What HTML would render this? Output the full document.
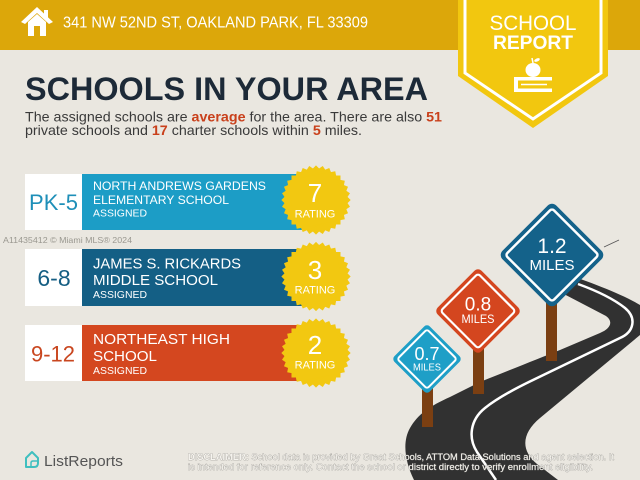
<!DOCTYPE html>
<html>
<head>
<meta charset="utf-8">
<style>
  html,body{margin:0;padding:0;background:#EAE7E0;}
  body{width:640px;height:480px;overflow:hidden;}
  svg{display:block;font-family:"Liberation Sans", Arial, sans-serif;}
</style>
</head>
<body>
<svg width="640" height="480" viewBox="0 0 640 480" xmlns="http://www.w3.org/2000/svg">
  <defs>
    <g id="star">
      <rect x="-24.5" y="-24.5" width="49" height="49" transform="rotate(0)"/>
      <rect x="-24.5" y="-24.5" width="49" height="49" transform="rotate(11.25)"/>
      <rect x="-24.5" y="-24.5" width="49" height="49" transform="rotate(22.5)"/>
      <rect x="-24.5" y="-24.5" width="49" height="49" transform="rotate(33.75)"/>
      <rect x="-24.5" y="-24.5" width="49" height="49" transform="rotate(45)"/>
      <rect x="-24.5" y="-24.5" width="49" height="49" transform="rotate(56.25)"/>
      <rect x="-24.5" y="-24.5" width="49" height="49" transform="rotate(67.5)"/>
      <rect x="-24.5" y="-24.5" width="49" height="49" transform="rotate(78.75)"/>
    </g>
  </defs>

  <!-- background -->
  <rect x="0" y="0" width="640" height="480" fill="#EAE7E0"/>

  <!-- header bar -->
  <rect x="0" y="0" width="640" height="50" fill="#DCA70A"/>
  <!-- house icon -->
  <polygon points="21,22 37,7 53,22 49,24 37,13 25,24" fill="#fff"/>
  <rect x="44" y="10" width="4" height="8" fill="#fff"/>
  <polygon points="28,22 37,14 46,22 46,36 28,36" fill="#fff"/>
  <rect x="34" y="26" width="6" height="10" fill="#DCA70A"/>
  <text x="63" y="27.5" font-size="16" fill="#fff" textLength="305" lengthAdjust="spacingAndGlyphs">341 NW 52ND ST, OAKLAND PARK, FL 33309</text>

  <!-- badge -->
  <polygon points="458,0 608,0 608,76 533,128 458,76" fill="#F2C70F"/>
  <polyline points="465,0 465,73 533,119 601,73 601,0" fill="none" stroke="#fff" stroke-width="3"/>
  <text x="533" y="30" font-size="21" fill="#fff" text-anchor="middle" textLength="87" lengthAdjust="spacingAndGlyphs">SCHOOL</text>
  <text x="533" y="49" font-size="19.5" font-weight="bold" fill="#fff" text-anchor="middle" textLength="80" lengthAdjust="spacingAndGlyphs">REPORT</text>
  <!-- apple -->
  <ellipse cx="533" cy="70" rx="7.5" ry="7" fill="#fff"/>
  <line x1="533" y1="63" x2="532" y2="58" stroke="#fff" stroke-width="1.5"/>
  <ellipse cx="537" cy="60" rx="3" ry="1.5" fill="#fff" transform="rotate(-25 537 60)"/>
  <!-- books -->
  <rect x="514" y="77" width="38" height="15" fill="#fff"/>
  <rect x="518" y="80.5" width="34" height="8" fill="#F2C70F"/>
  <line x1="521" y1="84.5" x2="547" y2="84.5" stroke="#fff" stroke-width="1.5"/>

  <!-- title -->
  <text x="25" y="100" font-size="32" font-weight="bold" fill="#1D2A38" textLength="403" lengthAdjust="spacingAndGlyphs">SCHOOLS IN YOUR AREA</text>
  <text x="25" y="121.5" font-size="14" fill="#3a3a3a" textLength="417" lengthAdjust="spacingAndGlyphs">The assigned schools are <tspan font-weight="bold" fill="#C9401B">average</tspan> for the area. There are also <tspan font-weight="bold" fill="#C9401B">51</tspan></text>
  <text x="25" y="135" font-size="14" fill="#3a3a3a" textLength="337" lengthAdjust="spacingAndGlyphs">private schools and <tspan font-weight="bold" fill="#C9401B">17</tspan> charter schools within <tspan font-weight="bold" fill="#C9401B">5</tspan> miles.</text>

  <!-- card 1 -->
  <rect x="25" y="174" width="57" height="56" fill="#fff"/>
  <rect x="82" y="174" width="220" height="56" fill="#1C9DC6"/>
  <text x="53.5" y="210" font-size="22" fill="#1E8FB8" text-anchor="middle">PK-5</text>
  <text x="93" y="190" font-size="12" fill="#fff" textLength="173" lengthAdjust="spacingAndGlyphs">NORTH ANDREWS GARDENS</text>
  <text x="93" y="204" font-size="12" fill="#fff" textLength="136" lengthAdjust="spacingAndGlyphs">ELEMENTARY SCHOOL</text>
  <text x="93" y="216.5" font-size="10.5" fill="#fff" textLength="54" lengthAdjust="spacingAndGlyphs">ASSIGNED</text>
  <use href="#star" transform="translate(316 200)" fill="#F2C811"/>
  <text x="315" y="202" font-size="26" fill="#fff" text-anchor="middle">7</text>
  <text x="315" y="217.5" font-size="11" fill="#fff" text-anchor="middle">RATING</text>

  <!-- watermark -->
  <text x="3" y="243" font-size="8.5" fill="#9a9890" textLength="129" lengthAdjust="spacingAndGlyphs">A11435412 © Miami MLS® 2024</text>

  <!-- card 2 -->
  <rect x="25" y="249" width="57" height="57" fill="#fff"/>
  <rect x="82" y="249" width="220" height="57" fill="#145F85"/>
  <text x="54" y="286" font-size="23" fill="#155E83" text-anchor="middle">6-8</text>
  <text x="93" y="268.5" font-size="15" fill="#fff" textLength="148" lengthAdjust="spacingAndGlyphs">JAMES S. RICKARDS</text>
  <text x="93" y="285" font-size="15" fill="#fff" textLength="125" lengthAdjust="spacingAndGlyphs">MIDDLE SCHOOL</text>
  <text x="93" y="298" font-size="10.5" fill="#fff" textLength="54" lengthAdjust="spacingAndGlyphs">ASSIGNED</text>
  <use href="#star" transform="translate(316 276.5)" fill="#F2C811"/>
  <text x="315" y="279" font-size="26" fill="#fff" text-anchor="middle">3</text>
  <text x="315" y="293.5" font-size="11" fill="#fff" text-anchor="middle">RATING</text>

  <!-- card 3 -->
  <rect x="25" y="325" width="57" height="56" fill="#fff"/>
  <rect x="82" y="325" width="220" height="56" fill="#D4471F"/>
  <text x="53" y="361.5" font-size="22" fill="#C9461F" text-anchor="middle">9-12</text>
  <text x="93" y="344" font-size="15" fill="#fff" textLength="137" lengthAdjust="spacingAndGlyphs">NORTHEAST HIGH</text>
  <text x="93" y="361" font-size="15" fill="#fff" textLength="64" lengthAdjust="spacingAndGlyphs">SCHOOL</text>
  <text x="93" y="374" font-size="10.5" fill="#fff" textLength="54" lengthAdjust="spacingAndGlyphs">ASSIGNED</text>
  <use href="#star" transform="translate(316 353)" fill="#F2C811"/>
  <text x="315" y="354" font-size="26" fill="#fff" text-anchor="middle">2</text>
  <text x="315" y="368.5" font-size="11" fill="#fff" text-anchor="middle">RATING</text>

  <!-- road -->
  <path d="M560,272 C590,282 622,294 640,305 L640,335 L540,418 C522,433 520,450 537,464 L558,480 L414,480 C405,462 402,442 410,428 C418,414 430,406 450,397 L480,382 C510,370 540,358 560,350 L600,333 C610,329 614,322 606,316 L560,292 Z" fill="#313131"/>
  <path d="M578,284 C600,292 615,300 625,308 C637,318 634,332 620,338 L533,380 C510,391 495,400 485,408 C470,420 468,438 477,452 L496,480" fill="none" stroke="#fff" stroke-width="2.5"/>

  <!-- posts -->
  <rect x="546" y="295" width="11" height="66" fill="#7B3F12"/>
  <rect x="473" y="345" width="11" height="49" fill="#7B3F12"/>
  <rect x="422" y="385" width="11" height="42" fill="#7B3F12"/>

  <!-- thin wire from sign -->
  <line x1="604" y1="247" x2="619" y2="240" stroke="#555" stroke-width="0.8"/>

  <!-- sign 1.2 -->
  <g transform="translate(552 255) rotate(45)">
    <rect x="-38" y="-38" width="76" height="76" rx="6" fill="#14628A"/>
    <rect x="-33" y="-33" width="66" height="66" rx="3" fill="none" stroke="#fff" stroke-width="2.5"/>
  </g>
  <text x="552" y="253" font-size="21" fill="#fff" text-anchor="middle">1.2</text>
  <text x="552" y="270" font-size="15" fill="#fff" text-anchor="middle" textLength="45" lengthAdjust="spacingAndGlyphs">MILES</text>

  <!-- sign 0.8 -->
  <g transform="translate(478 311) rotate(45)">
    <rect x="-31" y="-31" width="62" height="62" rx="5" fill="#D4461F"/>
    <rect x="-26.5" y="-26.5" width="53" height="53" rx="3" fill="none" stroke="#fff" stroke-width="2.2"/>
  </g>
  <text x="478" y="310.5" font-size="19" fill="#fff" text-anchor="middle">0.8</text>
  <text x="478" y="323" font-size="12" fill="#fff" text-anchor="middle" textLength="33" lengthAdjust="spacingAndGlyphs">MILES</text>

  <!-- sign 0.7 -->
  <g transform="translate(427 359) rotate(45)">
    <rect x="-25" y="-25" width="50" height="50" rx="4" fill="#1E9FC7"/>
    <rect x="-21" y="-21" width="42" height="42" rx="2.5" fill="none" stroke="#fff" stroke-width="2"/>
  </g>
  <text x="427" y="360" font-size="18" fill="#fff" text-anchor="middle">0.7</text>
  <text x="427" y="370.5" font-size="10.5" fill="#fff" text-anchor="middle" textLength="28" lengthAdjust="spacingAndGlyphs">MILES</text>

  <!-- ListReports logo -->
  <path d="M26,467 L26,458 L32,452 L38,458 L38,463 Q38,467 34,467 Z" fill="none" stroke="#3FBFBF" stroke-width="2" stroke-linejoin="round"/>
  <path d="M31,467 L31,463 Q31,461 33,461 L38,461" fill="none" stroke="#3FBFBF" stroke-width="1.5"/>
  <text x="44" y="466" font-size="15" fill="#555" textLength="79" lengthAdjust="spacingAndGlyphs">ListReports</text>

  <!-- disclaimer -->
  <g font-size="9" fill="#f6f4ef" stroke="#8c8a85" stroke-width="0.5" paint-order="stroke">
    <text x="188" y="460" textLength="426" lengthAdjust="spacingAndGlyphs"><tspan font-weight="bold">DISCLAIMER:</tspan> School data is provided by Great Schools, ATTOM Data Solutions and agent selection. It</text>
    <text x="188" y="470" textLength="405" lengthAdjust="spacingAndGlyphs">is intended for reference only. Contact the school or district directly to verify enrollment eligibility.</text>
  </g>
</svg>
</body>
</html>
